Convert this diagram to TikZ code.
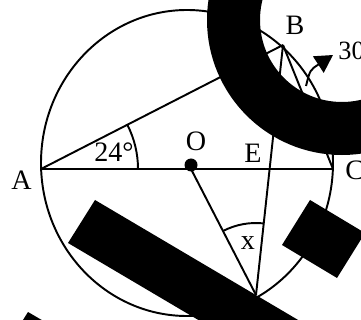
\documentclass[tikz,border=0pt]{standalone}
\usepackage{fontspec}
\setmainfont{Liberation Serif}
\usetikzlibrary{arrows.meta}
\begin{document}
\begin{tikzpicture}[x=0.02cm,y=0.02cm,
  geo/.style={line width=1.1pt,black},
  lbl/.style={inner sep=0pt,font=\fontsize{16}{18}\selectfont},
  blot/.style={fill=black,draw=none}]
\useasboundingbox (0,0) rectangle (361,-320);
% points
\coordinate (A) at (41,-169);
\coordinate (C) at (333,-169);
\coordinate (O) at (191,-169);
\coordinate (B) at (283,-45);
\coordinate (D) at (256,-295);
\coordinate (E) at (269.6,-169);
\coordinate (Ctr) at (187,-163);
% circle
\draw[geo] (Ctr) ellipse[x radius=146,y radius=153];
% chords
\draw[geo] (A) -- (C);
\draw[geo] (A) -- (B);
\draw[geo] (B) -- (C);
\draw[geo] (B) -- (D);
\draw[geo] (O) -- (D);
\fill (191,-165) circle[radius=6.5];
% angle marks
\draw[geo] (A) ++(97,0) arc[start angle=0,end angle=27,radius=97];
\draw[geo] (D) ++(84:72) arc[start angle=84,end angle=117,radius=72];
% arrow to 30
\coordinate (t0) at (306,-86);
\coordinate (t1) at (333,-55);
\draw[geo,-{Triangle[length=10pt,width=11pt]}] (t0) .. controls (310,-70) .. (t1);
% labels
\node[lbl] (lA) at (21.5,-180) {A};
\node[lbl] (lO) at (196,-141) {O};
\node[lbl] (lE) at (253,-153) {E};
\node[lbl] (lB) at (295,-25) {B};
\node[lbl,anchor=west] (lC) at (345,-170) {C};
\node[lbl,anchor=west,font=\fontsize{15}{17}\selectfont] (l30) at (338,-51) {30°};
\node[lbl] (l24) at (114,-152) {24°};
\node[lbl] (lx) at (248,-243) {x};
% occluding shapes
\draw[line width=1.06cm] (342,-20) circle[radius=108.5];
\fill[blot] (95,-200) -- (68,-243) -- (327,-396) -- (354,-353) -- cycle;
\fill[blot] (28,-312) -- (71,-337) -- (44,-380) -- (1,-355) -- cycle;
\fill[blot] (310,-200) -- (282,-245) -- (337,-278) -- (365,-233) -- cycle;
\end{tikzpicture}
\end{document}
